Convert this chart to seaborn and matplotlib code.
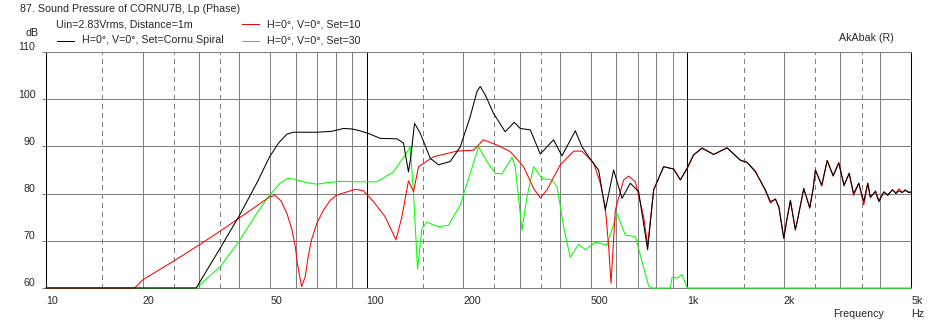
import matplotlib
matplotlib.use("Agg")
import matplotlib.pyplot as plt
import numpy as np
import pandas as pd
import seaborn as sns
from matplotlib.lines import Line2D
from matplotlib.ticker import FixedLocator, NullLocator
from matplotlib.transforms import blended_transform_factory

# ---------------- data ----------------
black_f = [10, 29.4, 34.9, 39.9, 45.4, 49.8, 53.1, 56.4, 59.1, 69.9, 78, 84.7, 89.9,
           95.4, 102.5, 110.2, 124.3, 130.3, 135.0, 137.3, 141.0, 146.9, 157.8, 167.5,
           182.2, 195.8, 210.3, 220.7, 226.0, 234.3, 248.6, 270.4, 288.5, 301.2, 323.7,
           347.8, 382.7, 406.4, 447.3, 469.4, 498.2, 528.8, 554.7, 588.9, 625.6, 664.1,
           704.9, 751.8, 785.0, 843.3, 906.5, 951.0, 997.8, 1046, 1111, 1208, 1330,
           1464, 1536, 1630, 1751, 1816, 1882, 1930, 1998, 2046, 2096, 2171, 2199,
           2307, 2408, 2468, 2508, 2625, 2729, 2849, 2966, 3080, 3196, 3300, 3425, 3549,
           3652, 3721, 3861, 3957, 4098, 4217, 4360, 4470, 4570, 4680, 4780, 4900, 5000]
black_db = [60, 60, 68.4, 75.1, 82.2, 87.8, 90.7, 92.6, 93.0, 93.0, 93.2, 93.8, 93.7,
            93.3, 92.6, 91.7, 91.6, 90.7, 84.6, 87.8, 94.9, 92.8, 87.5, 86.1,
            86.8, 89.9, 96.3, 101.6, 102.7, 100.9, 97.0, 93.1, 95.1, 93.8, 93.5,
            88.4, 91.4, 88.0, 93.3, 89.9, 87.3, 85.0, 76.5, 85.0, 79.0, 82.2,
            80.4, 68.1, 80.8, 85.7, 85.2, 82.9, 85.4, 88.2, 89.6, 88.3, 89.7,
            87.1, 86.6, 84.6, 80.8, 78.3, 78.8, 77.2, 70.5, 74.8, 78.6, 72.3, 74.0,
            81.1, 76.9, 81.1, 85.0, 81.8, 87.0, 83.7, 86.5, 81.8, 84.3, 80.0, 82.2, 78.3,
            82.2, 79.3, 80.4, 78.3, 80.4, 79.6, 80.8, 80.0, 80.6, 80.2, 80.8, 80.2, 80.3]

red_f = [10, 18.9, 20.0, 25.0, 30.0, 35.0, 40.0, 45.4, 49.8, 51.8, 54.0, 56.4, 58.5,
         59.9, 60.8, 62.1, 62.7, 64.3, 65.7, 67.3, 69.9, 73.3, 77.0, 80.7, 92.1, 97.7,
         105.0, 114.2, 123.4, 128.8, 135.0, 140.0, 145.1, 161.6, 191.1, 215.4, 231.4,
         254.8, 280.4, 308.5, 331.6, 347.8, 364.9, 401.6, 441.9, 469.4, 510.2, 535.3,
         554.7, 568.2, 578.0, 596.3, 632.9, 656.0, 688.4, 730.8, 751.8, 785.0, 843.3,
         906.5, 951.0, 997.8, 1046, 1111, 1208, 1330, 1464, 1536, 1630, 1751, 1816,
         1882, 1930, 1998, 2046, 2096, 2171, 2199, 2307, 2408, 2468, 2508, 2625, 2729,
         2849, 2966, 3080, 3196, 3300, 3425, 3549, 3652, 3721, 3861, 3957, 4098, 4217,
         4360, 4470, 4570, 4680, 4780, 4900, 5000]
red_db = [60, 60, 61.7, 65.7, 69.1, 72.1, 74.8, 77.4, 79.3, 79.6, 78.5, 75.8, 72.3,
          68.8, 65.2, 61.7, 60.3, 62.4, 66.6, 70.2, 73.7, 76.5, 78.6, 79.7, 80.9, 80.6,
          78.3, 75.1, 70.2, 75.1, 82.7, 80.4, 85.7, 87.8, 89.0, 89.2, 91.4,
          90.3, 88.9, 85.7, 81.1, 79.1, 80.8, 86.1, 89.0, 89.0, 86.5, 82.2,
          77.2, 68.8, 61.0, 76.5, 82.9, 83.7, 82.5, 75.1, 69.0, 80.8, 85.7,
          85.2, 82.9, 85.2, 88.2, 89.7, 88.3, 89.7, 87.0, 86.6, 84.8, 80.6, 78.0,
          78.9, 77.0, 70.6, 74.6, 78.4, 72.5, 74.0, 81.0, 77.1, 81.0, 85.0, 81.6, 87.0,
          83.9, 86.6, 81.6, 84.3, 79.6, 82.2, 77.6, 82.2, 79.1, 80.6, 78.5, 80.3, 79.8,
          80.8, 80.2, 81.0, 80.3, 80.6, 80.4, 80.3]

green_f = [10, 29.4, 34.9, 39.9, 45.4, 49.8, 53.7, 56.4, 59.1, 65.2, 69.9, 75.0, 82.7,
           95.4, 107.6, 121.2, 131.9, 136.7, 140.0, 144.1, 148.7, 154.1, 167.5, 179.9,
           195.8, 210.3, 223.3, 237.1, 251.8, 264.1, 283.9, 290.6, 305.0, 316.1, 331.6,
           352.1, 378.3, 392.2, 411.2, 431.4, 458.1, 480.6, 516.4, 561.6, 603.6, 640.6,
           688.4, 757.3, 775.9, 885.1, 896.0, 928.9, 962.7, 1000, 5000]
green_db = [60, 60, 64.5, 69.8, 75.8, 79.7, 82.2, 83.2, 83.1, 82.3, 82.0, 82.3, 82.6,
            82.5, 82.5, 84.6, 88.2, 89.9, 80.0, 64.0, 72.6, 73.9, 73.0, 73.3,
            77.6, 84.3, 89.9, 86.8, 84.3, 84.2, 87.7, 85.7, 72.3, 79.3, 85.7,
            83.2, 82.9, 81.5, 73.0, 66.5, 69.3, 68.1, 69.7, 69.1, 75.8, 71.2,
            70.9, 60.4, 60, 60, 62.3, 62.1, 62.8, 60, 60]

series_names = ["H=0°, V=0°, Set=30", "H=0°, V=0°, Set=10", "H=0°, V=0°, Set=Cornu Spiral"]
series_colors = ["#00ff00", "#ff0000", "#000000"]

x_tick_vals = [10, 20, 50, 100, 200, 500, 1000, 2000, 5000]
x_tick_labels = ["10", "20", "50", "100", "200", "500", "1k", "2k", "5k"]
y_tick_vals = [60, 70, 80, 90, 100, 110]

grid_black = [10, 100, 1000, 5000]
grid_solid = [20, 30, 40, 50, 60, 70, 80, 90, 200, 300, 400, 500, 600, 700, 800, 900,
              2000, 3000, 4000]
grid_dashed = [15, 25, 35, 150, 250, 350, 1500, 2500, 3500]

# ---------------- figure ----------------
sns.set_style("white")
plt.rcParams["font.family"] = ["Liberation Sans", "DejaVu Sans"]
plt.rcParams["lines.scale_dashes"] = False
FS = 7.7
LW = 0.55      # crisp 1px furniture lines
CLW = 0.75     # curve width

W, H = 937, 324
fig = plt.figure(figsize=(W / 100, H / 100), dpi=100)
ax = fig.add_axes([46 / W, 1 - 288 / H, (911.5 - 46) / W, (288 - 52) / H])


def fx(px):
    return px / W


def fy(py):
    return 1 - py / H


df = pd.concat([
    pd.DataFrame({"freq": green_f, "dB": green_db, "series": series_names[0]}),
    pd.DataFrame({"freq": red_f, "dB": red_db, "series": series_names[1]}),
    pd.DataFrame({"freq": black_f, "dB": black_db, "series": series_names[2]}),
], ignore_index=True)

sns.lineplot(data=df, x="freq", y="dB", hue="series", hue_order=series_names,
             palette=dict(zip(series_names, series_colors)), estimator=None,
             sort=False, legend=False, linewidth=CLW, ax=ax)
for ln in ax.lines:
    ln.set_clip_on(False)
    ln.set_zorder(3)

ax.set_xscale("log")
ax.set_xlim(10, 5000)
ax.set_ylim(60, 110)
ax.set_xlabel("")
ax.set_ylabel("")

gray = "#808080"
for v in grid_solid:
    ax.axvline(v, color=gray, lw=LW, zorder=1, antialiased=False)
for v in grid_dashed:
    ax.axvline(v, color=gray, lw=LW, linestyle=(0, (3, 3)), zorder=1, antialiased=False)
for v in grid_black:
    ax.axvline(v, color="black", lw=LW, zorder=2, antialiased=False)
for v in y_tick_vals[1:-1]:
    ax.axhline(v, color=gray, lw=LW, zorder=1, antialiased=False)

for s in ["left", "right"]:
    ax.spines[s].set_color("black")
    ax.spines[s].set_linewidth(0.75)
for s in ["top", "bottom"]:
    ax.spines[s].set_color(gray)
    ax.spines[s].set_linewidth(0.75)

ax.xaxis.set_major_locator(FixedLocator(x_tick_vals))
ax.xaxis.set_minor_locator(NullLocator())
ax.tick_params(axis="x", length=0, labelbottom=False)
ax.yaxis.set_major_locator(FixedLocator(y_tick_vals))
ax.tick_params(axis="y", length=3, width=0.75, color=gray, labelleft=False, left=True)

# x tick labels (left-aligned at the tick)
tx = blended_transform_factory(ax.transData, fig.transFigure)
for v, lab in zip(x_tick_vals, x_tick_labels):
    ax.text(v, fy(303.5), lab, transform=tx, ha="left", va="baseline", fontsize=FS)

# y tick labels
for v in y_tick_vals:
    py = 52 + (110 - v) / 50 * 236
    fig.text(fx(35.5), fy(py - 1.5), str(v), ha="right", va="baseline", fontsize=FS)

# header texts
fig.text(fx(20), fy(12.5), "87. Sound Pressure of CORNU7B, Lp (Phase)", ha="left",
         va="baseline", fontsize=FS)
fig.text(fx(56), fy(27.3), "Uin=2.83Vrms, Distance=1m", ha="left", va="baseline",
         fontsize=FS)
fig.text(fx(26), fy(35.5), "dB", ha="left", va="baseline", fontsize=FS)
fig.text(fx(839), fy(41), "AkAbak (R)", ha="left", va="baseline", fontsize=FS)
fig.text(fx(833), fy(317), "Frequency", ha="left", va="baseline", fontsize=FS)
fig.text(fx(911), fy(317), "Hz", ha="left", va="baseline", fontsize=FS)

# legend
legend_items = [
    (57, 40.7, 82, 43.3, series_names[2], series_colors[2]),
    (242, 24.3, 267, 27.3, series_names[1], series_colors[1]),
    (242, 40.7, 267, 43.3, series_names[0], series_colors[0]),
]
for x0, ly, tx0, ty, name, col in legend_items:
    fig.add_artist(Line2D([fx(x0), fx(x0 + 17)], [fy(ly), fy(ly)], color=col, lw=0.7,
                          antialiased=False))
    fig.text(fx(tx0), fy(ty), name, ha="left", va="baseline", fontsize=FS)

fig.savefig("out.png", dpi=100)
